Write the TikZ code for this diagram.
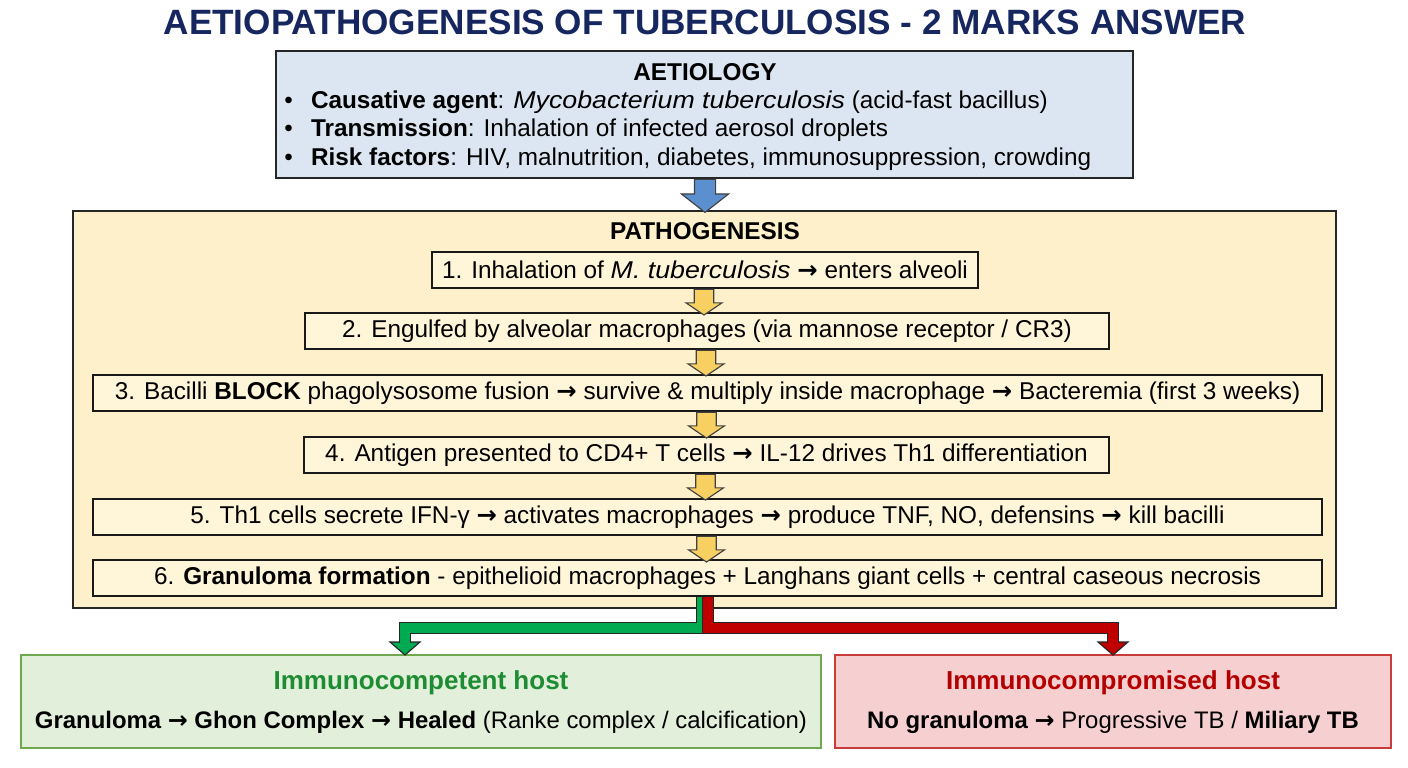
\documentclass[tikz,border=0pt]{standalone}
\usepackage{fontspec}
\setmainfont{Liberation Sans}[ItalicFeatures={FakeStretch=1.1}]
\newfontfamily\arrowfont{DejaVu Sans}
\newcommand{\toarr}{{\arrowfont\bfseries →}}
\usepackage{tikz}
\usetikzlibrary{calc}
\usetikzlibrary{shapes.arrows}
\definecolor{titleblue}{RGB}{22, 38, 94}
\definecolor{aetiofill}{RGB}{220, 230, 242}
\definecolor{pathofill}{RGB}{253, 240, 203}
\definecolor{stepfill}{RGB}{255, 246, 218}
\definecolor{arrblue}{RGB}{91, 143, 207}
\definecolor{arryellow}{RGB}{248, 208, 98}
\definecolor{arrgreen}{RGB}{0, 170, 80}
\definecolor{arrred}{RGB}{192, 0, 0}
\definecolor{compfill}{RGB}{226, 239, 218}
\definecolor{compdraw}{RGB}{112, 168, 80}
\definecolor{comptext}{RGB}{30, 140, 50}
\definecolor{cmprfill}{RGB}{246, 208, 208}
\definecolor{cmprdraw}{RGB}{200, 60, 60}
\definecolor{cmprtext}{RGB}{180, 0, 0}
\def\pxu{0.025cm}
\tikzset{
  bodytext/.style={font=\fontsize{17.3}{20}\selectfont, inner sep=0pt},
  bigbox/.style={draw=black!85, line width=1.2pt},
  stepbox/.style={draw=black!90, line width=1pt, fill=stepfill,
    minimum height=36*\pxu, inner sep=0pt, font=\fontsize{17.3}{20}\selectfont},
  hostbox/.style={line width=1pt, minimum height=93*\pxu},
  steparr/.style={single arrow, shape border rotate=270, draw=black!75,
    line width=0.8pt, fill=arryellow, inner sep=9*\pxu, anchor=tail,
    minimum width=36*\pxu, single arrow head extend=8*\pxu,
    single arrow tip angle=112, minimum height=25*\pxu},
  fatshaft/.style={draw=black!85, line width=0.8pt, double distance=10*\pxu}
}

\begin{document}
\begin{tikzpicture}[x=\pxu, y=-\pxu]
  \useasboundingbox (0,0) rectangle (1408,768);
  % title
  \node[font=\fontsize{25}{30}\selectfont\bfseries, text=titleblue] (title) at (705,22)
    {AETIOPATHOGENESIS OF TUBERCULOSIS - 2 MARKS ANSWER};

  % aetiology
  \node[bigbox, fill=aetiofill, minimum width=857*\pxu, minimum height=127*\pxu] (aetio) at (704.5,114.5) {};
  \node[bodytext, font=\fontsize{17.3}{20}\selectfont\bfseries] (aetiohead) at (705,72) {AETIOLOGY};
  \node[bodytext, anchor=west] (agent) at (284,102)
    {\makebox[1.1em][l]{\textbullet}\textbf{Causative agent}: \textit{Mycobacterium tuberculosis} (acid-fast bacillus)};
  \node[bodytext, anchor=west] (spread) at (284,130)
    {\makebox[1.1em][l]{\textbullet}\textbf{Transmission}: Inhalation of infected aerosol droplets};
  \node[bodytext, anchor=west] (risk) at (284,159)
    {\makebox[1.1em][l]{\textbullet}\textbf{Risk factors}: HIV, malnutrition, diabetes, immunosuppression, crowding};

  % pathogenesis
  \node[bigbox, fill=pathofill, minimum width=1263*\pxu, minimum height=397*\pxu] (patho) at (704.5,409.5) {};
  \node[single arrow, shape border rotate=270, draw=black!75, line width=0.8pt, fill=arrblue,
    inner sep=10*\pxu, anchor=tail, minimum width=46*\pxu, single arrow head extend=13*\pxu,
    single arrow tip angle=104, minimum height=33*\pxu] (down) at ([xshift=0.5*\pxu]aetio.south) {};
  \node[bodytext, font=\fontsize{17.3}{20}\selectfont\bfseries] (pathohead) at (705,231) {PATHOGENESIS};

  \node[stepbox, minimum width=546*\pxu] (s1) at (705,270)
    {1. Inhalation of \textit{M. tuberculosis} \toarr{} enters alveoli};
  \node[stepbox, minimum width=804*\pxu] (s2) at (707,331)
    {2. Engulfed by alveolar macrophages (via mannose receptor / CR3)};
  \node[stepbox, minimum width=1229*\pxu] (s3) at (707.5,393)
    {3. Bacilli \textbf{BLOCK} phagolysosome fusion \toarr{} survive \& multiply inside macrophage \toarr{} Bacteremia (first 3 weeks)};
  \node[stepbox, minimum width=805*\pxu] (s4) at (706.5,455)
    {4. Antigen presented to CD4+ T cells \toarr{} IL-12 drives Th1 differentiation};
  \node[stepbox, minimum width=1229*\pxu] (s5) at (707.5,517)
    {5. Th1 cells secrete IFN-γ \toarr{} activates macrophages \toarr{} produce TNF, NO, defensins \toarr{} kill bacilli};
  \node[stepbox, minimum width=1229*\pxu] (s6) at (707.5,578)
    {6. \textbf{Granuloma formation} - epithelioid macrophages + Langhans giant cells + central caseous necrosis};

  \foreach \a in {1,...,5}
    \node[steparr] (a\a) at ([xshift=-1*\pxu]s\a.south) {};

  % outcomes
  \node[hostbox, draw=compdraw, fill=compfill, minimum width=800*\pxu] (comp) at (421,701.5) {};
  \node[font=\fontsize{18.5}{22}\selectfont\bfseries, text=comptext] (comphead) at (421,683) {Immunocompetent host};
  \node[font=\fontsize{17}{20}\selectfont] (compbody) at (421,722)
    {\textbf{Granuloma \toarr{} Ghon Complex \toarr{} Healed} (Ranke complex / calcification)};
  \node[hostbox, draw=cmprdraw, fill=cmprfill, minimum width=556*\pxu] (cmpr) at (1113,701.5) {};
  \node[font=\fontsize{18.5}{22}\selectfont\bfseries, text=cmprtext] (cmprhead) at (1113,683) {Immunocompromised host};
  \node[font=\fontsize{17}{20}\selectfont] (cmprbody) at (1113,722)
    {\textbf{No granuloma} \toarr{} Progressive TB / \textbf{Miliary TB}};

  \coordinate (gtip) at (405,655);
  \coordinate (rtip) at (1113,655);
  \filldraw[fill=arrgreen, draw=black!85, line width=0.8pt] ($(gtip)+(-15,-13)$) -- (gtip) -- ($(gtip)+(15,-13)$) -- cycle;
  \draw[fatshaft, double=arrgreen] ($(s6.south)+(-5.5,0)$) |- ($(gtip)+(0,-27)$) -- ($(gtip)+(0,-12.4)$);
  \filldraw[fill=arrred, draw=black!85, line width=0.8pt] ($(rtip)+(-15,-13)$) -- (rtip) -- ($(rtip)+(15,-13)$) -- cycle;
  \draw[fatshaft, double=arrred] ($(s6.south)+(0.5,0)$) |- ($(rtip)+(0,-27)$) -- ($(rtip)+(0,-12.4)$);
\end{tikzpicture}
\end{document}
